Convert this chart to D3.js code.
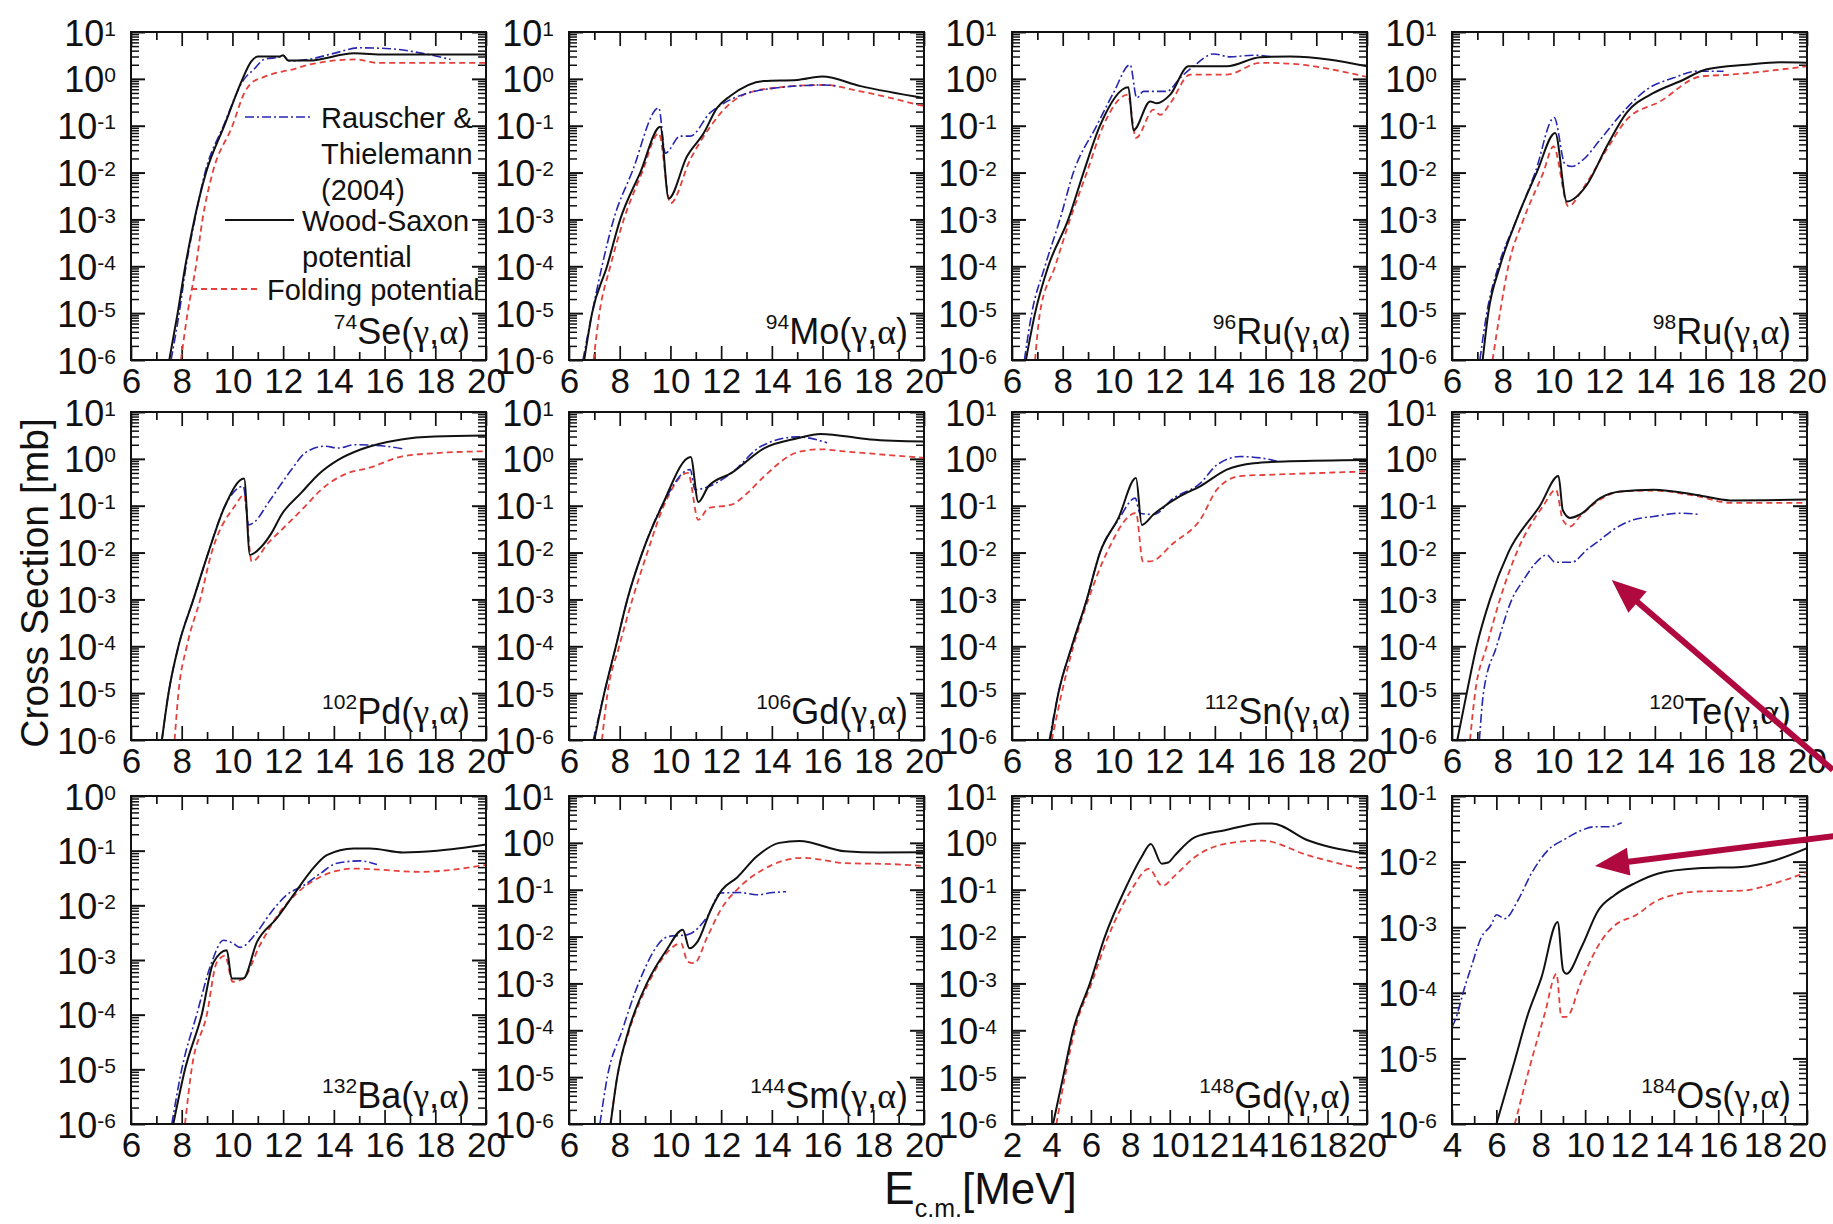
<!DOCTYPE html>
<html>
<head>
<meta charset="utf-8">
<script src="https://cdn.jsdelivr.net/npm/d3@7"></script>
<style>
  body { margin: 0; background: #fff; }
  svg { display: block; }
</style>
</head>
<body>
<svg id="chart" width="1833" height="1224"></svg>
<script>
// (γ,α) cross sections [mb] vs centre-of-mass energy [MeV]
// rt   = Rauscher & Thielemann (2004)
// ws   = Wood-Saxon potential
// fold = Folding potential

const se74_rt = [[7.58,1e-6],[7.9,1e-5],[8.17,1e-4],[8.52,1e-3],[8.92,1e-2],[9.65,0.1],[10.47,1.0],[10.85,1.6],[11.25,2.6],[11.9,2.95],[12.0,3.1],[12.25,2.4],[13.0,2.6],[14.0,3.5],[15.0,4.6],[16.2,4.4],[17.5,3.5],[18.6,2.6]];
const se74_ws = [[7.51,1e-6],[7.84,1e-5],[8.14,1e-4],[8.5,1e-3],[8.96,1e-2],[9.68,0.1],[10.4,1.0],[10.73,2.3],[11.0,3.0],[11.85,3.0],[12.0,3.2],[12.2,2.45],[13.0,2.45],[14.8,3.5],[16.0,3.3],[20,3.3]];
const se74_fold = [[7.97,1e-6],[8.23,1e-5],[8.56,1e-4],[8.82,1e-3],[9.22,1e-2],[10.0,0.1],[10.47,0.5],[10.73,0.8],[11.25,1.1],[12.0,1.45],[12.3,1.55],[13.0,2.0],[14.9,2.6],[15.7,2.2],[20,2.2]];

const mo94_rt = [[6.55,1e-6],[6.91,1e-5],[7.3,1e-4],[7.76,1e-3],[8.48,1e-2],[9.54,0.24],[9.8,0.026],[10.39,0.06],[10.78,0.06],[11.57,0.19],[12.1,0.3],[13.68,0.59],[16.05,0.74],[16.6,0.7]];
const mo94_ws = [[6.6,1e-6],[6.91,1e-5],[7.5,1e-4],[8.02,1e-3],[8.81,1e-2],[9.6,0.095],[9.93,2.8e-3],[10.65,0.022],[11.31,0.069],[11.84,0.24],[12.36,0.43],[13.68,0.9],[15.0,0.95],[15.98,1.12],[17.5,0.7],[20,0.39]];
const mo94_fold = [[6.97,1e-6],[7.2,1e-5],[7.63,1e-4],[8.16,1e-3],[8.88,1e-2],[9.54,0.069],[10.0,2.2e-3],[10.78,0.019],[11.57,0.095],[12.36,0.3],[13.68,0.6],[16.05,0.74],[17.5,0.54],[20,0.26]];

const ru96_rt = [[6.49,1e-6],[6.78,1e-5],[7.3,1e-4],[7.89,1e-3],[8.42,1e-2],[9.34,0.1],[10.0,0.5],[10.66,2.0],[10.92,0.39],[11.18,0.54],[12.1,0.54],[12.63,1.05],[13.16,1.86],[13.95,3.4],[14.6,2.95],[15.5,3.2],[16.3,2.95]];
const ru96_ws = [[6.55,1e-6],[6.91,1e-5],[7.43,1e-4],[8.22,1e-3],[8.82,1e-2],[9.47,0.1],[10.59,0.66],[10.79,0.08],[11.45,0.33],[11.71,0.3],[12.24,0.46],[12.96,1.86],[14.47,1.86],[15.79,2.9],[16.97,3.0],[20,1.86]];
const ru96_fold = [[6.91,1e-6],[7.1,1e-5],[7.7,1e-4],[8.29,1e-3],[8.95,1e-2],[9.6,0.1],[10.57,0.46],[10.89,0.055],[11.58,0.22],[11.84,0.17],[12.24,0.3],[13.03,1.23],[14.47,1.23],[15.79,2.2],[16.71,2.15],[20,1.1]];

const ru98_rt = [[7.1,1e-6],[7.37,1e-5],[7.83,1e-4],[8.55,1e-3],[9.28,1e-2],[10.03,0.15],[10.46,0.015],[10.72,0.0135],[11.18,0.019],[11.84,0.05],[12.83,0.22],[13.68,0.59],[14.74,1.05],[15.66,1.45],[16.71,1.45]];
const ru98_ws = [[7.21,1e-6],[7.43,1e-5],[7.89,1e-4],[8.55,1e-3],[9.34,1e-2],[10.07,0.07],[10.53,2.4e-3],[11.05,3.6e-3],[11.32,5.5e-3],[12.1,0.036],[12.89,0.19],[13.95,0.5],[15.0,0.89],[16.05,1.6],[17.63,2.0],[18.95,2.25],[20,2.2]];
const ru98_fold = [[7.6,1e-6],[7.89,1e-5],[8.22,1e-4],[8.82,1e-3],[9.6,1e-2],[10.0,0.036],[10.59,1.9e-3],[11.18,4.7e-3],[12.1,0.031],[12.89,0.135],[14.21,0.33],[15.79,1.12],[16.97,1.23],[20,1.86]];

const pd102_rt = [[7.22,1e-6],[7.48,1e-5],[7.87,1e-4],[8.46,1e-3],[9.05,1e-2],[9.71,0.1],[10.43,0.26],[10.56,0.081],[10.63,0.039],[10.89,0.046],[11.41,0.115],[12.33,0.59],[12.85,1.32],[13.64,1.86],[14.17,1.7],[14.82,2.0],[15.87,1.9],[16.78,1.62]];
const pd102_ws = [[7.22,1e-6],[7.48,1e-5],[7.87,1e-4],[8.46,1e-3],[9.05,1e-2],[9.71,0.1],[10.46,0.38],[10.69,0.0089],[11.15,0.0135],[11.54,0.026],[11.94,0.065],[12.72,0.19],[13.38,0.46],[14.17,0.95],[15.08,1.6],[16.66,2.6],[17.97,3.0],[20,3.15]];
const pd102_fold = [[7.72,1e-6],[7.87,1e-5],[8.2,1e-4],[8.73,1e-3],[9.18,1e-2],[10.1,0.1],[10.46,0.17],[10.76,0.0064],[11.41,0.016],[12.07,0.036],[12.85,0.095],[13.5,0.22],[14.56,0.5],[15.34,0.63],[16.66,1.12],[17.97,1.32],[20,1.45]];

const gd106_rt = [[6.96,1e-6],[7.39,1e-5],[7.85,1e-4],[8.3,1e-3],[8.89,1e-2],[9.67,0.1],[10.78,0.59],[10.97,0.22],[11.36,0.24],[12.41,0.5],[13.58,1.86],[15.01,2.95],[16.18,2.2]];
const gd106_ws = [[7.0,1e-6],[7.39,1e-5],[7.85,1e-4],[8.3,1e-3],[8.89,1e-2],[9.67,0.1],[10.8,1.1],[11.1,0.12],[11.5,0.26],[12.41,0.5],[13.71,1.7],[15.01,2.75],[15.92,3.4],[17.88,2.6],[20,2.35]];
const gd106_fold = [[7.3,1e-6],[7.52,1e-5],[7.98,1e-4],[8.5,1e-3],[9.09,1e-2],[9.74,0.1],[10.69,0.5],[11.1,0.05],[11.5,0.089],[12.41,0.105],[13.05,0.19],[13.71,0.43],[15.01,1.38],[15.92,1.6],[16.83,1.45],[20,1.05]];

const sn112_rt = [[7.47,1e-6],[7.83,1e-5],[8.36,1e-4],[8.95,1e-3],[9.47,1e-2],[10.2,0.05],[10.86,0.145],[11.05,0.069],[11.58,0.065],[12.37,0.145],[13.42,0.3],[14.08,0.74],[15.0,1.12],[15.79,1.05],[16.45,0.89]];
const sn112_ws = [[7.5,1e-6],[7.83,1e-5],[8.36,1e-4],[8.95,1e-3],[9.47,1e-2],[10.2,0.055],[10.89,0.39],[11.12,0.039],[11.58,0.065],[12.63,0.16],[13.42,0.26],[14.47,0.59],[15.53,0.81],[16.97,0.89],[20,0.95]];
const sn112_fold = [[7.57,1e-6],[7.96,1e-5],[8.42,1e-4],[9.01,1e-3],[9.74,1e-2],[10.89,0.07],[11.16,0.0065],[11.45,0.0065],[12.37,0.016],[13.42,0.05],[14.08,0.22],[15.0,0.43],[16.32,0.46],[20,0.54]];

const te120_rt = [[7.08,1e-6],[7.24,1e-5],[7.76,1e-4],[8.36,1e-3],[8.82,2.6e-3],[9.3,6e-3],[9.74,0.0089],[10.07,0.0062],[10.72,0.0062],[11.32,0.0115],[11.84,0.0186],[12.37,0.031],[13.16,0.05],[13.95,0.059],[15.0,0.069],[15.79,0.065]];
const te120_ws = [[6.21,1e-6],[6.58,1e-5],[6.97,1e-4],[7.5,1e-3],[8.22,1e-2],[9.47,0.1],[10.2,0.43],[10.37,0.08],[10.66,0.055],[11.05,0.065],[11.84,0.145],[12.63,0.2],[13.95,0.22],[15.66,0.17],[16.97,0.13],[20,0.135]];
const te120_fold = [[6.71,1e-6],[6.91,1e-5],[7.37,1e-4],[7.89,1e-3],[8.55,1e-2],[9.6,0.1],[10.1,0.22],[10.37,0.05],[10.66,0.036],[11.05,0.059],[11.84,0.135],[12.63,0.2],[13.95,0.21],[15.66,0.16],[16.97,0.115],[20,0.115]];

const ba132_rt = [[7.61,1e-6],[8.0,1e-5],[8.59,1e-4],[9.18,9e-4],[9.64,2.3e-3],[10.04,2.0e-3],[10.3,1.7e-3],[10.96,3.2e-3],[11.49,7.1e-3],[12.14,0.0155],[12.8,0.023],[13.46,0.038],[14.12,0.059],[15.04,0.065],[15.7,0.056]];
const ba132_ws = [[7.67,1e-6],[8.13,1e-5],[8.79,1e-4],[9.25,9e-4],[9.78,1.5e-3],[9.97,4.6e-4],[10.43,4.6e-4],[10.96,2.1e-3],[11.75,5.8e-3],[12.41,0.0155],[13.07,0.041],[13.72,0.083],[14.78,0.11],[15.43,0.11],[16.75,0.093],[18.07,0.1],[20,0.13]];
const ba132_fold = [[8.13,1e-6],[8.39,1e-5],[8.99,1e-4],[9.38,9e-4],[9.71,1.2e-3],[10.01,4e-4],[10.43,4.6e-4],[11.09,1.9e-3],[11.88,7.6e-3],[12.54,0.0166],[13.46,0.033],[14.78,0.047],[17.41,0.041],[20,0.055]];

const sm144_rt = [[7.22,1e-6],[7.51,1e-5],[8.1,1e-4],[8.74,1e-3],[9.91,1e-2],[10.68,0.011],[11.46,0.027],[11.98,0.085],[12.75,0.087],[13.4,0.078],[14.05,0.087],[14.56,0.091]];
const sm144_ws = [[7.64,1e-6],[7.9,1e-5],[8.35,1e-4],[9.07,1e-3],[9.84,5.1e-3],[10.49,0.014],[10.75,5.6e-3],[11.07,7.8e-3],[11.59,0.037],[12.04,0.1],[12.62,0.18],[13.4,0.51],[14.3,1.0],[15.08,1.1],[16.89,0.66],[18.19,0.62],[20,0.63]];
const sm144_fold = [[7.64,1e-6],[7.9,1e-5],[8.38,1e-4],[9.13,1e-3],[9.9,4.8e-3],[10.42,7.2e-3],[10.68,2.9e-3],[10.94,2.7e-3],[11.46,0.01],[11.98,0.037],[12.75,0.117],[13.66,0.27],[15.21,0.48],[16.89,0.37],[18.83,0.35],[20,0.32]];

const gd148_ws = [[4.08,1e-6],[4.59,1e-5],[5.1,1e-4],[5.95,1e-3],[6.71,1e-2],[7.72,0.1],[8.57,0.5],[9.04,0.95],[9.59,0.36],[9.92,0.38],[10.26,0.54],[11.28,1.32],[12.8,1.86],[14.66,2.6],[15.17,2.6],[17.03,1.12],[20,0.59]];
const gd148_fold = [[4.25,1e-6],[4.68,1e-5],[5.18,1e-4],[6.03,1e-3],[6.88,1e-2],[8.06,0.1],[8.94,0.28],[9.62,0.12],[10.26,0.2],[11.28,0.5],[12.8,0.95],[14.66,1.12],[17.03,0.54],[20,0.26]];

const os184_rt = [[4.0,3e-5],[4.2,4.3e-5],[4.35,6.5e-5],[4.5,1e-4],[4.87,2.5e-4],[5.32,7e-4],[5.78,1.1e-3],[6.0,1.55e-3],[6.38,1.35e-3],[6.98,2.6e-3],[7.58,6.6e-3],[8.33,0.015],[9.09,0.022],[9.84,0.03],[10.44,0.034],[11.04,0.034],[11.65,0.039]];
const os184_ws = [[6.0,1e-6],[6.83,9.3e-6],[7.43,4.8e-5],[8.03,1.7e-4],[8.76,1.2e-3],[9.01,2.2e-4],[9.16,1.95e-4],[9.84,5e-4],[10.59,1.8e-3],[11.34,3.1e-3],[12.25,4.7e-3],[13.3,6.6e-3],[15.1,7.9e-3],[17.06,8.3e-3],[18.57,0.0105],[20,0.016]];
const os184_fold = [[6.83,1e-6],[7.5,7.4e-6],[8.18,4.8e-5],[8.71,1.95e-4],[8.93,4.3e-5],[9.16,4.3e-5],[9.84,1.55e-4],[10.74,6.3e-4],[11.34,1.07e-3],[12.25,1.5e-3],[13.3,2.6e-3],[15.1,3.5e-3],[17.06,3.6e-3],[18.57,4.7e-3],[20,6.9e-3]];

// Panel descriptors
const massNumbers = ["74","94","96","98","102","106","112","120","132","144","148","184"];
const elements    = ["Se","Mo","Ru","Ru","Pd","Gd","Sn","Te","Ba","Sm","Gd","Os"];
const energyMin   = [6,6,6,6,6,6,6,6,6,6,2,4];
const energyMax   = 20;
const decadeTop   = [1,1,1,1,1,1,1,1,0,1,1,-1];
const decadeBottom = -6;
const rtSeries   = [se74_rt, mo94_rt, ru96_rt, ru98_rt, pd102_rt, gd106_rt, sn112_rt, te120_rt, ba132_rt, sm144_rt, null, os184_rt];
const wsSeries   = [se74_ws, mo94_ws, ru96_ws, ru98_ws, pd102_ws, gd106_ws, sn112_ws, te120_ws, ba132_ws, sm144_ws, gd148_ws, os184_ws];
const foldSeries = [se74_fold, mo94_fold, ru96_fold, ru98_fold, pd102_fold, gd106_fold, sn112_fold, te120_fold, ba132_fold, sm144_fold, gd148_fold, os184_fold];

// Legend entries (drawn in the first panel)
const legendLabels = [["Rauscher &", "Thielemann", "(2004)"], ["Wood-Saxon", "potential"], ["Folding potential"]];

// Annotation arrows: [panel index, tail [E, σ], tip [E, σ]]
const arrows = [
  [7, [21.02, 2.3e-7], [12.3, 2.6e-3]],
  [11, [21.2, 0.0245], [10.44, 8.6e-3]]
];

// ---- layout & style ----
const FONT = "'Liberation Sans', Arial, Helvetica, sans-serif";
const GREEK = "'Liberation Serif', 'DejaVu Serif', serif";
const colX = [131, 569, 1012, 1452];
const rowY = [32, 412, 796];
const PW = 355, PH = 328;
const styles = {
  rt:   { stroke: "#2626b0", width: 1.6, dash: "9,3,2,3" },
  ws:   { stroke: "#111111", width: 2.0, dash: null },
  fold: { stroke: "#e5403b", width: 1.8, dash: "6,4" }
};

const svg = d3.select("#chart");
const defs = svg.append("defs");

const panels = massNumbers.map((m, i) => ({
  mass: m, el: elements[i],
  xMin: energyMin[i], top: decadeTop[i],
  rt: rtSeries[i], ws: wsSeries[i], fold: foldSeries[i],
  x0: colX[i % 4], y0: rowY[Math.floor(i / 4)]
}));

const scales = [];

panels.forEach((p, i) => {
  const x = d3.scaleLinear().domain([p.xMin, energyMax]).range([0, PW]);
  const y = d3.scaleLog().domain([Math.pow(10, decadeBottom), Math.pow(10, p.top)]).range([PH, 0]);
  scales.push({ x, y, p });

  const g = svg.append("g").attr("transform", `translate(${p.x0},${p.y0})`);

  const majorX = d3.range(p.xMin, energyMax + 0.001, 2);
  const minorX = d3.range(p.xMin + 1, energyMax, 2);
  const decades = d3.range(decadeBottom, p.top + 1);
  const majorY = decades.map(e => Math.pow(10, e));
  const minorY = [];
  decades.slice(0, -1).forEach(e => { for (let k = 2; k <= 9; k++) minorY.push(k * Math.pow(10, e)); });

  const styleAxis = (sel, w) => {
    sel.select(".domain").remove();
    sel.selectAll(".tick line").attr("stroke", "#111").attr("stroke-width", w || 1.7);
    sel.attr("font-family", FONT);
  };

  // bottom axis with labels
  g.append("g").attr("transform", `translate(0,${PH})`)
    .call(d3.axisBottom(x).tickValues(majorX).tickSize(-14).tickFormat(d3.format("d")))
    .call(styleAxis)
    .call(s => s.selectAll(".tick text").attr("y", 33).attr("dy", null)
      .attr("font-size", 35).attr("fill", "#111"));
  g.append("g").attr("transform", `translate(0,${PH})`)
    .call(d3.axisBottom(x).tickValues(minorX).tickSize(-8).tickFormat(""))
    .call(styleAxis);
  // top axis
  g.append("g")
    .call(d3.axisTop(x).tickValues(majorX).tickSize(-14).tickFormat(""))
    .call(styleAxis);
  g.append("g")
    .call(d3.axisTop(x).tickValues(minorX).tickSize(-8).tickFormat(""))
    .call(styleAxis);

  // left axis with power-of-ten labels
  g.append("g")
    .call(d3.axisLeft(y).tickValues(majorY).tickSize(-14).tickPadding(15).tickFormat(""))
    .call(s => styleAxis(s, 2))
    .call(s => s.selectAll(".tick text").each(function (d) {
      const t = d3.select(this);
      t.attr("dy", 13).attr("font-size", 36).attr("fill", "#111");
      t.append("tspan").text("10");
      t.append("tspan").attr("dy", -10).attr("font-size", 21).text(Math.round(Math.log10(d)));
    }));
  g.append("g")
    .call(d3.axisLeft(y).tickValues(minorY).tickSize(-8).tickFormat(""))
    .call(s => styleAxis(s, 1.5));
  // right axis
  g.append("g").attr("transform", `translate(${PW},0)`)
    .call(d3.axisRight(y).tickValues(majorY).tickSize(-14).tickFormat(""))
    .call(s => styleAxis(s, 2));
  g.append("g").attr("transform", `translate(${PW},0)`)
    .call(d3.axisRight(y).tickValues(minorY).tickSize(-8).tickFormat(""))
    .call(s => styleAxis(s, 1.5));

  // curves
  const clipId = `clip-${i}`;
  defs.append("clipPath").attr("id", clipId)
    .append("rect").attr("width", PW).attr("height", PH);
  const line = d3.line().x(d => x(d[0])).y(d => y(d[1])).curve(d3.curveMonotoneX);
  const curves = g.append("g").attr("clip-path", `url(#${clipId})`);
  [["fold", p.fold], ["rt", p.rt], ["ws", p.ws]].forEach(([key, data]) => {
    if (!data) return;
    const st = styles[key];
    curves.append("path").datum(data)
      .attr("d", line)
      .attr("fill", "none")
      .attr("stroke", st.stroke)
      .attr("stroke-width", st.width)
      .attr("stroke-dasharray", st.dash)
      .attr("stroke-linejoin", "round");
  });

  // frame
  g.append("rect").attr("width", PW).attr("height", PH)
    .attr("fill", "none").attr("stroke", "#111").attr("stroke-width", 2);

  // reaction label
  const lab = g.append("text")
    .attr("x", PW - 16).attr("y", PH - 16)
    .attr("text-anchor", "end")
    .attr("font-family", FONT).attr("font-size", 36).attr("fill", "#111");
  lab.append("tspan").attr("font-size", 21).attr("dy", -15).text(p.mass);
  lab.append("tspan").attr("dy", 15).text(p.el + "(");
  lab.append("tspan").attr("font-family", GREEK).text("γ");
  lab.append("tspan").text(",");
  lab.append("tspan").attr("font-family", GREEK).text("α");
  lab.append("tspan").text(")");
});

// ---- legend in first panel ----
(function () {
  const g = svg.append("g").attr("transform", `translate(${colX[0]},${rowY[0]})`)
    .attr("font-family", FONT).attr("font-size", 29).attr("fill", "#111");
  const entries = [
    { key: "rt",   lx: [114, 180], ly: 85,  tx: 190, ty: 96,  lines: legendLabels[0] },
    { key: "ws",   lx: [94, 163],  ly: 188, tx: 171, ty: 199, lines: legendLabels[1] },
    { key: "fold", lx: [60, 126],  ly: 257, tx: 136, ty: 268, lines: legendLabels[2] }
  ];
  entries.forEach(e => {
    const st = styles[e.key];
    g.append("line").attr("x1", e.lx[0]).attr("x2", e.lx[1]).attr("y1", e.ly).attr("y2", e.ly)
      .attr("stroke", st.stroke).attr("stroke-width", st.width).attr("stroke-dasharray", st.dash);
    e.lines.forEach((t, k) => {
      g.append("text").attr("x", e.tx).attr("y", e.ty + k * 36).text(t);
    });
  });
})();

// ---- axis titles ----
svg.append("text")
  .attr("transform", "translate(48,583) rotate(-90)")
  .attr("text-anchor", "middle")
  .attr("font-family", FONT).attr("font-size", 39).attr("fill", "#111")
  .text("Cross Section [mb]");

const xt = svg.append("text")
  .attr("x", 884).attr("y", 1204)
  .attr("font-family", FONT).attr("fill", "#111");
xt.append("tspan").attr("font-size", 46).text("E");
xt.append("tspan").attr("font-size", 25).attr("dy", 13).text("c.m.");
xt.append("tspan").attr("font-size", 44).attr("dy", -13).text("[MeV]");

// ---- annotation arrows ----
arrows.forEach(([pi, tail, tip]) => {
  const s = scales[pi];
  const ox = s.p.x0, oy = s.p.y0;
  const x1 = ox + s.x(tail[0]), y1 = oy + s.y(tail[1]);
  const x2 = ox + s.x(tip[0]),  y2 = oy + s.y(tip[1]);
  const ang = Math.atan2(y2 - y1, x2 - x1);
  const headLen = 34, headHalf = 14;
  const bx = x2 - headLen * Math.cos(ang), by = y2 - headLen * Math.sin(ang);
  const col = "#b0093f";
  svg.append("line").attr("x1", x1).attr("y1", y1).attr("x2", bx + 4 * Math.cos(ang)).attr("y2", by + 4 * Math.sin(ang))
    .attr("stroke", col).attr("stroke-width", 6);
  const pts = [
    [x2, y2],
    [bx + headHalf * Math.sin(ang), by - headHalf * Math.cos(ang)],
    [bx - headHalf * Math.sin(ang), by + headHalf * Math.cos(ang)]
  ];
  svg.append("polygon").attr("points", pts.map(p => p.join(",")).join(" ")).attr("fill", col);
});
</script>
</body>
</html>
